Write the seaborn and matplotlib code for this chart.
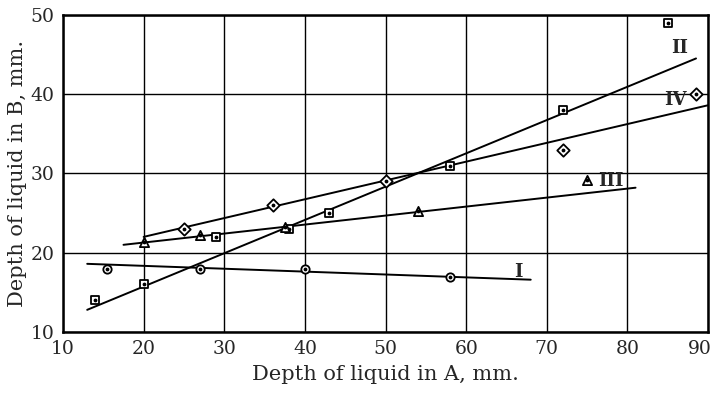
import pandas as pd
import matplotlib.pyplot as plt
import matplotlib.transforms as mtransforms
import seaborn as sns

# Measured points for the four runs (depth in A, depth in B, mm)
x_I = [15.5, 27, 40, 58]
y_I = [18, 18, 18, 17]
x_II = [14, 20, 29, 38, 43, 58, 72, 85]
y_II = [14, 16, 22, 23, 25, 31, 38, 49]
x_III = [20, 27, 37.5, 54, 75]
y_III = [21.3, 22.2, 23.2, 25.2, 29.2]
x_IV = [25, 36, 50, 72, 88.5]
y_IV = [23, 26, 29, 33, 40]

# end points of the fitted straight lines
fit_x = {"I": [13, 68], "II": [13, 88.5], "III": [17.5, 81], "IV": [20, 90]}
fit_y = {"I": [18.6, 16.6], "II": [12.8, 44.5], "III": [21, 28.2], "IV": [22, 38.6]}

# label positions for the roman numerals
lab_x = {"I": 66.5, "II": 86.5, "III": 78, "IV": 86}
lab_y = {"I": 17.6, "II": 45.8, "III": 29.1, "IV": 39.2}

pts = pd.concat([
    pd.DataFrame({"a": x_I, "b": y_I, "run": "I"}),
    pd.DataFrame({"a": x_II, "b": y_II, "run": "II"}),
    pd.DataFrame({"a": x_III, "b": y_III, "run": "III"}),
    pd.DataFrame({"a": x_IV, "b": y_IV, "run": "IV"}),
])

sns.set_style("white")
plt.rcParams['font.family'] = ['DejaVu Serif']

fig = plt.figure(figsize=(7.16, 4.01), dpi=100)
ax = fig.add_axes([0.088, 0.172, 0.901, 0.791])

for run in ["I", "II", "III", "IV"]:
    sns.lineplot(x=fit_x[run], y=fit_y[run], ax=ax, color="black", lw=1.4, sort=False)

markers = {"I": "o", "II": "s", "III": "^", "IV": "D"}
sizes = {"I": 36, "II": 30, "III": 44, "IV": 40}
for run, m in markers.items():
    d = pts[pts.run == run]
    sns.scatterplot(data=d, x="a", y="b", ax=ax, marker=m, s=sizes[run],
                    facecolor="white", edgecolor="black", linewidth=1.3, zorder=5)
    ax.scatter(d["a"], d["b"], s=3, color="black", zorder=6)

for run in lab_x:
    ax.text(lab_x[run], lab_y[run], run, fontsize=13, fontweight="bold",
            ha="center", va="center")

ax.set_xlim(10, 90)
ax.set_ylim(10, 50)
ax.set_xticks(range(10, 91, 10))
ax.set_yticks(range(10, 51, 10))
ax.grid(True, color="black", lw=1.0)
for s in ax.spines.values():
    s.set_color("black")
    s.set_linewidth(1.8)
ax.tick_params(length=0, labelsize=13.5, pad=6)
ax.set_xlabel("Depth of liquid in A, mm.", fontsize=15, labelpad=5)
ax.set_ylabel("Depth of liquid in B, mm.", fontsize=15, labelpad=3)

# nudge the last x label so it stays inside the figure
last = ax.get_xticklabels()[-1]
last.set_transform(last.get_transform() +
                   mtransforms.ScaledTranslation(-8 / 100, 0, fig.dpi_scale_trans))

fig.savefig("out.png", dpi=100)
